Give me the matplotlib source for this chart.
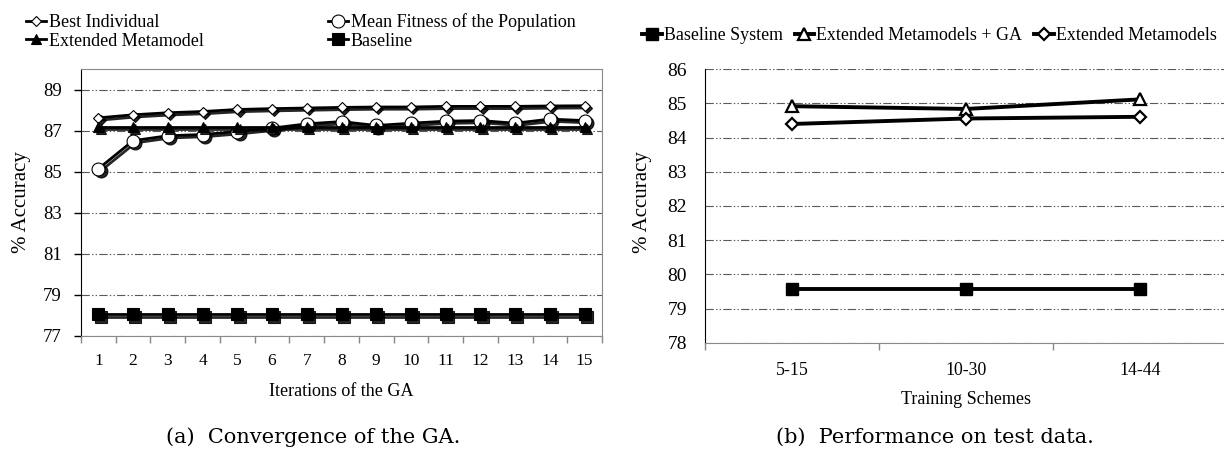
import matplotlib
matplotlib.use("Agg")
import matplotlib.pyplot as plt
from matplotlib.ticker import FixedLocator
from matplotlib.transforms import ScaledTranslation

plt.rcParams['font.family'] = ['Liberation Serif', 'DejaVu Serif']
plt.rcParams['lines.scale_dashes'] = False

# (a) convergence of the GA
iterations = [str(i) for i in range(1, 16)]
best_individual = [87.62, 87.77, 87.87, 87.93, 88.03, 88.07, 88.10, 88.13,
                   88.15, 88.15, 88.18, 88.18, 88.18, 88.20, 88.21]
mean_fitness = [85.14, 86.51, 86.75, 86.81, 86.95, 87.12, 87.33, 87.44,
                87.25, 87.36, 87.46, 87.49, 87.36, 87.56, 87.49]
extended_metamodel = [87.2] * 15
baseline = [78.05] * 15

# (b) performance on test data
schemes = ['5-15', '10-30', '14-44']
baseline_system = [79.56, 79.56, 79.56]
ext_meta_ga = [84.92, 84.84, 85.12]
ext_meta = [84.40, 84.56, 84.61]

W, H = 1224, 451
fig = plt.figure(figsize=(W / 100, H / 100), dpi=100)

grid_ls = (0, (6, 1.6, 1, 1.6, 1, 1.6))
grid_c = '#5a5a5a'

# ---------------- left chart ----------------
axL = fig.add_axes([81 / W, 1 - 336 / H, (602 - 81) / W, (336 - 69) / H])
xL = list(range(len(iterations)))
shadow = axL.transData + ScaledTranslation(1.6 / 72, -1.6 / 72, fig.dpi_scale_trans)

left_series = [
    (best_individual, 'D', 'white', 5.6, 'Best Individual'),
    (mean_fitness, 'o', 'white', 9.3, 'Mean Fitness of the Population'),
    (extended_metamodel, '^', 'black', 7.5, 'Extended Metamodel'),
    (baseline, 's', 'black', 8.2, 'Baseline'),
]
handlesL = []
for vals, m, fc, ms, lab in left_series:
    axL.plot(xL, vals, color='black', lw=2.0, marker=m, ms=ms, mfc='black',
             mec='black', mew=0.8, transform=shadow, alpha=0.85, zorder=3)
    ln, = axL.plot(xL, vals, color='black', lw=2.0, marker=m, ms=ms, mfc=fc,
                   mec='black', mew=0.8, zorder=3, label=lab)
    handlesL.append(ln)

axL.set_xlim(-0.5, len(iterations) - 0.5)
axL.set_ylim(77, 90)
axL.set_yticks(range(77, 90, 2))
axL.set_xticks(xL)
axL.set_xticklabels(iterations)
axL.xaxis.set_minor_locator(FixedLocator([i - 0.5 for i in range(len(iterations) + 1)]))
axL.tick_params(axis='x', which='major', length=0, pad=12, labelsize=12.5)
axL.tick_params(axis='x', which='minor', length=5, color='#888888', width=1)
axL.tick_params(axis='y', length=5, width=1, pad=9, labelsize=13.5)
axL.grid(axis='y', color=grid_c, lw=0.8, ls=grid_ls)
axL.set_axisbelow(True)
for s in ['top', 'right', 'bottom']:
    axL.spines[s].set_color('#8a8a8a')
axL.spines['left'].set_color('black')
fig.text(22 / W, 1 - 202 / H, '% Accuracy', rotation=90, ha='center', va='center', fontsize=15)
fig.text(341 / W, 1 - 391 / H, 'Iterations of the GA', ha='center', va='center', fontsize=13)

# legend rows: Best Individual | Mean Fitness, Extended Metamodel | Baseline
orderL = [handlesL[0], handlesL[2], handlesL[1], handlesL[3]]
fig.legend(handles=orderL, loc='upper left', bbox_to_anchor=(26 / W, 1 - 13 / H),
           ncol=2, frameon=False, fontsize=13, handlelength=1.1, handletextpad=0.15,
           columnspacing=6.9, labelspacing=0.1, borderpad=0, borderaxespad=0)

# ---------------- right chart ----------------
axR = fig.add_axes([705 / W, 1 - 342.7 / H, (W - 705) / W, (342.7 - 69.3) / H])
xR = list(range(len(schemes)))
hb, = axR.plot(xR, baseline_system, color='black', lw=2.8, marker='s', ms=8.2,
               mfc='black', mec='black', label='Baseline System', zorder=3)
hg, = axR.plot(xR, ext_meta_ga, color='black', lw=2.8, marker='^', ms=9,
               mfc='white', mec='black', mew=1.6, label='Extended Metamodels + GA', zorder=3)
hm, = axR.plot(xR, ext_meta, color='black', lw=2.8, marker='D', ms=6.5,
               mfc='white', mec='black', mew=1.6, label='Extended Metamodels', zorder=3)

axR.set_xlim(-0.5, -0.5 + (W - 705) / 174)
axR.set_ylim(78, 86)
axR.set_yticks(range(78, 87))
axR.set_xticks(xR)
axR.set_xticklabels(schemes)
axR.xaxis.set_minor_locator(FixedLocator([-0.5, 0.5, 1.5, 2.5]))
axR.tick_params(axis='x', which='major', length=0, pad=14, labelsize=12.8)
axR.tick_params(axis='x', which='minor', length=5, color='#888888', width=1)
axR.tick_params(axis='y', length=0, pad=13, labelsize=14)
axR.grid(axis='y', color=grid_c, lw=0.8, ls=grid_ls)
axR.set_axisbelow(True)
axR.spines['top'].set_visible(False)
axR.spines['right'].set_visible(False)
axR.spines['bottom'].set_color('#8a8a8a')
axR.spines['left'].set_color('black')
fig.text(643 / W, 1 - 202 / H, '% Accuracy', rotation=90, ha='center', va='center', fontsize=15)
fig.text(966 / W, 1 - 399 / H, 'Training Schemes', ha='center', va='center', fontsize=13)

fig.legend(handles=[hb, hg, hm], loc='center left', bbox_to_anchor=(642 / W, 1 - 36 / H),
           ncol=3, frameon=False, fontsize=12.9, handlelength=1.1, handletextpad=0.12,
           columnspacing=0.65, borderpad=0, borderaxespad=0)

# captions
fig.text(313 / W, 1 - 437 / H, '(a)  Convergence of the GA.', ha='center', va='center',
         fontsize=15, family=['DejaVu Serif'])
fig.text(935 / W, 1 - 437 / H, '(b)  Performance on test data.', ha='center', va='center',
         fontsize=15, family=['DejaVu Serif'])

fig.savefig('out.png', dpi=100)
